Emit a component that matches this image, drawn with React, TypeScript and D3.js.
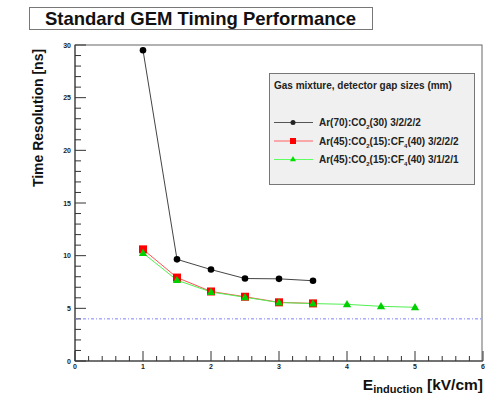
import React from "react";
import * as d3 from "d3";

const width = 485;
const height = 398;
const frame = { left: 75, right: 483, top: 45, bottom: 361 };

// data
const xBlack = [1, 1.5, 2, 2.5, 3, 3.5];
const yBlack = [29.5, 9.65, 8.68, 7.83, 7.8, 7.62];
const xRed = [1, 1.5, 2, 2.5, 3, 3.5];
const yRed = [10.6, 7.92, 6.6, 6.1, 5.57, 5.47];
const xGreen = [1, 1.5, 2, 2.5, 3, 3.5, 4, 4.5, 5];
const yGreen = [10.25, 7.67, 6.55, 6.05, 5.55, 5.45, 5.38, 5.19, 5.1];
const refLine = 4;

const xTicks = [0, 1, 2, 3, 4, 5, 6];
const yTicks = [0, 5, 10, 15, 20, 25, 30];

const font = "'Liberation Sans', Arial, sans-serif";

const App = () => {
  const x = d3.scaleLinear().domain([0, 6]).range([frame.left, frame.right]);
  const y = d3.scaleLinear().domain([0, 30]).range([frame.bottom, frame.top]);

  const line = (xs: number[], ys: number[]) =>
    d3.line<number>().x((d, i) => x(xs[i])).y((d) => y(d))(ys) || "";

  const xMinor = d3.range(0, 6.001, 0.2);
  const yMinor = d3.range(0, 30.001, 1);

  const tri = d3.symbol().type(d3.symbolTriangle).size(30)() || "";

  // legend
  const lg = { x: 269, y: 73, w: 205, h: 111 };
  const entries = [
    { y: 122.5, color: "#222", line: "#555", kind: "circle", label: ["Ar(70):CO", "2", "(30) 3/2/2/2"] },
    { y: 141, color: "#ff0000", line: "#ff6060", kind: "square", label: ["Ar(45):CO", "2", "(15):CF", "4", "(40) 3/2/2/2"] },
    { y: 159.5, color: "#00e000", line: "#60ff60", kind: "tri", label: ["Ar(45):CO", "2", "(15):CF", "4", "(40) 3/1/2/1"] },
  ];

  return (
    <svg width={width} height={height} style={{ position: "absolute", left: 0, top: 0, background: "#fff" }} fontFamily={font}>
      {/* title box */}
      <rect x={29.5} y={7.5} width={343} height={22} fill="#fff" stroke="#777" strokeWidth={1} />
      <text x={200.5} y={25} textAnchor="middle" fontSize={18.5} fontWeight="bold" fill="#111">
        Standard GEM Timing Performance
      </text>

      {/* frame */}
      <rect x={frame.left} y={frame.top} width={frame.right - frame.left - 1} height={frame.bottom - frame.top} fill="none" stroke="#666" strokeWidth={1} />
      <line x1={frame.left} x2={frame.left} y1={frame.top} y2={frame.bottom} stroke="#333" />
      <line x1={frame.left} x2={frame.right} y1={frame.bottom} y2={frame.bottom} stroke="#333" />

      {/* y ticks */}
      {yMinor.map((v) => (
        <line key={"ym" + v} x1={frame.left} x2={frame.left + (v % 5 === 0 ? 11 : 6)} y1={y(v)} y2={y(v)} stroke="#333" strokeWidth={1} />
      ))}
      {yTicks.map((v) => (
        <text key={"yl" + v} x={frame.left - 4} y={y(v) + 2.5} textAnchor="end" fontSize={7} fontWeight="bold" fill="#222">
          {v}
        </text>
      ))}
      {/* x ticks */}
      {xMinor.map((v, i) => (
        <line key={"xm" + i} x1={x(v)} x2={x(v)} y1={frame.bottom} y2={frame.bottom - (i % 5 === 0 ? 10 : 5)} stroke="#333" strokeWidth={1} />
      ))}
      {xTicks.map((v) => (
        <text key={"xl" + v} x={x(v)} y={frame.bottom + 8} textAnchor="middle" fontSize={7} fontWeight="bold" fill="#222">
          {v}
        </text>
      ))}

      {/* reference line */}
      <line x1={frame.left} x2={frame.right} y1={y(refLine)} y2={y(refLine)} stroke="#8080ff" strokeWidth={1} strokeDasharray="3,2,1,2" />

      {/* series */}
      <path d={line(xBlack, yBlack)} fill="none" stroke="#444" strokeWidth={1} />
      <path d={line(xRed, yRed)} fill="none" stroke="#ff5050" strokeWidth={1} />
      <path d={line(xGreen, yGreen)} fill="none" stroke="#50f050" strokeWidth={1} />
      {xBlack.map((v, i) => (
        <circle key={"b" + i} cx={x(v)} cy={y(yBlack[i])} r={3.3} fill="#000" />
      ))}
      {xRed.map((v, i) => (
        <rect key={"r" + i} x={x(v) - 4} y={y(yRed[i]) - 4} width={8} height={8} fill="#ff0000" />
      ))}
      {xGreen.map((v, i) => (
        <path key={"g" + i} d={tri} transform={`translate(${x(v)},${y(yGreen[i]) + 0.5})`} fill="#00d000" />
      ))}

      {/* legend */}
      <rect x={lg.x + 0.5} y={lg.y + 0.5} width={lg.w} height={lg.h} fill="#f0f0f0" stroke="#777" strokeWidth={1} />
      <text x={274} y={89} fontSize={10} fontWeight="bold" fill="#222">
        Gas mixture, detector gap sizes (mm)
      </text>
      {entries.map((e) => (
        <g key={e.y}>
          <line x1={274} x2={313} y1={e.y} y2={e.y} stroke={e.line} strokeWidth={1} />
          {e.kind === "circle" && <circle cx={293} cy={e.y} r={2.5} fill={e.color} />}
          {e.kind === "square" && <rect x={290} y={e.y - 3} width={6} height={6} fill={e.color} />}
          {e.kind === "tri" && <path d={d3.symbol().type(d3.symbolTriangle).size(16)() || ""} transform={`translate(293,${e.y})`} fill={e.color} />}
          <text x={319} y={e.y + 3.5} fontSize={10} fontWeight="bold" fill="#222">
            {e.label.map((s, i) =>
              i % 2 === 1 ? (
                <tspan key={i} fontSize={6} dy={3}>{s}</tspan>
              ) : (
                <tspan key={i} dy={i === 0 ? 0 : -3}>{s}</tspan>
              )
            )}
          </text>
        </g>
      ))}

      {/* axis titles */}
      <text transform={`translate(43,118) rotate(-90)`} textAnchor="middle" fontSize={14} fontWeight="bold" fill="#111">
        Time Resolution [ns]
      </text>
      <text x={483} y={390} textAnchor="end" fontSize={15.5} fontWeight="bold" fill="#111">
        E<tspan fontSize={11} dy={3}>induction</tspan>
        <tspan dy={-3}> [kV/cm]</tspan>
      </text>
    </svg>
  );
};

export default App;
